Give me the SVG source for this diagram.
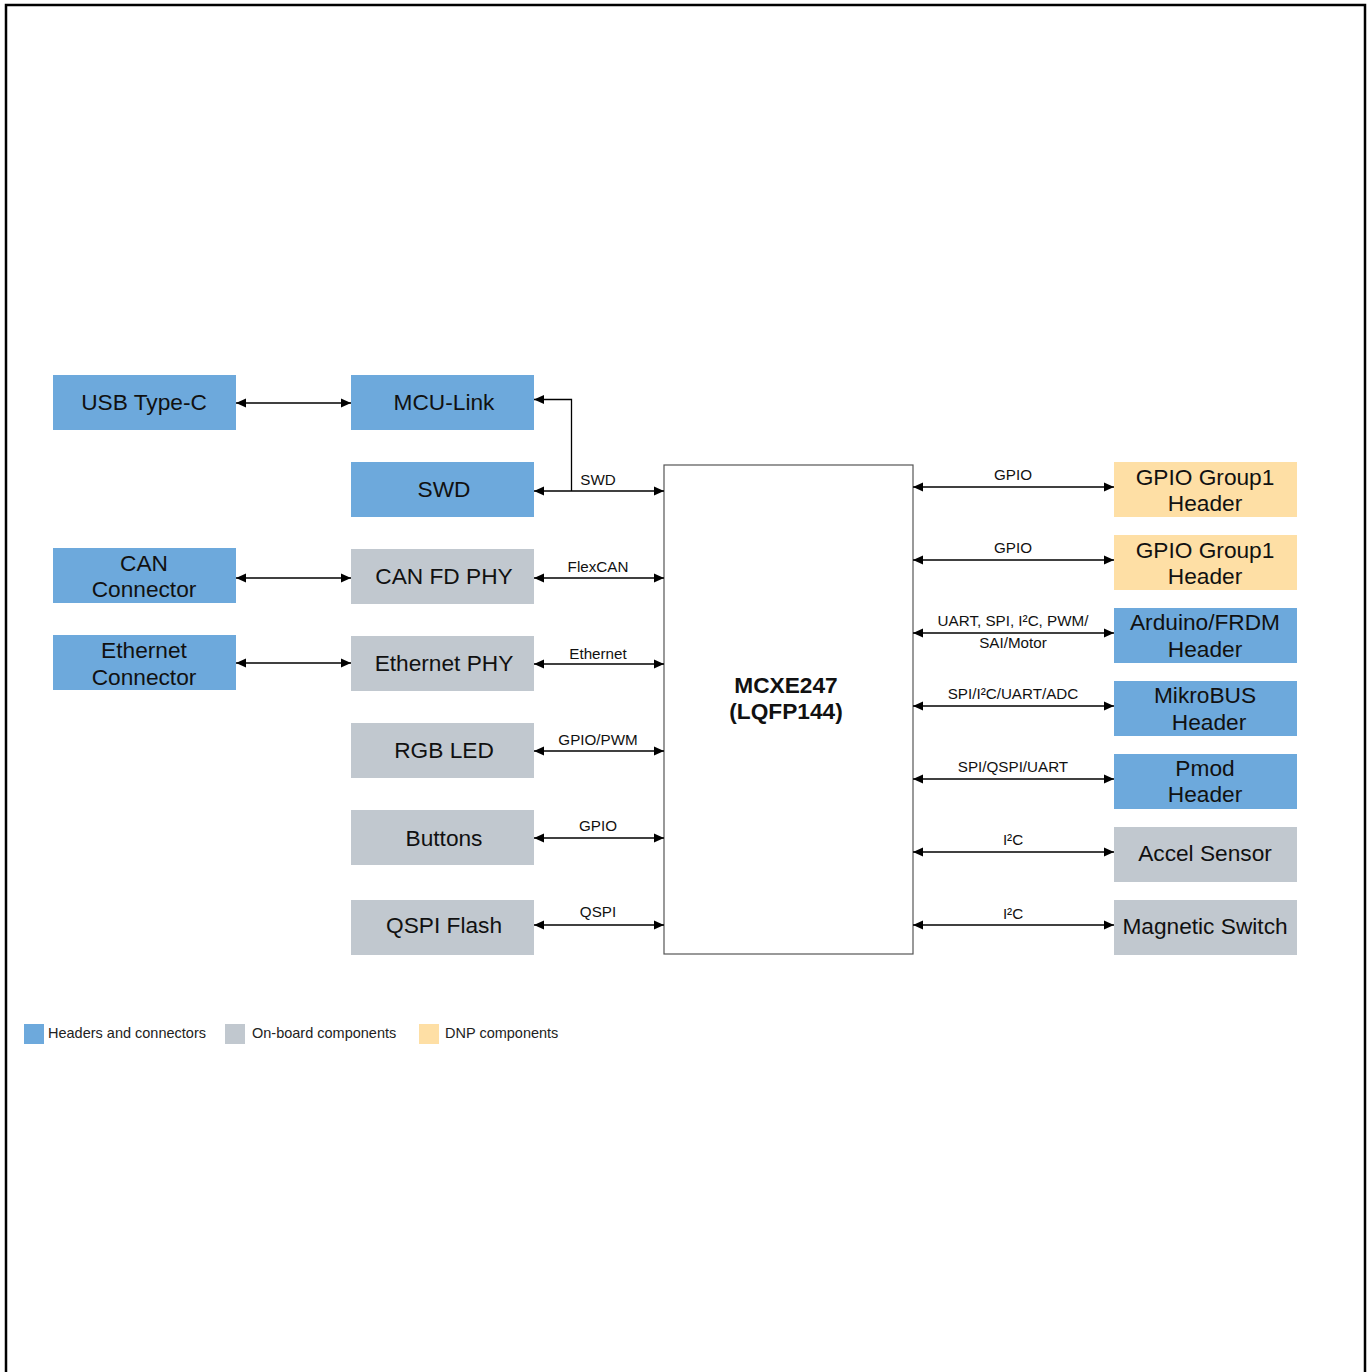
<svg xmlns="http://www.w3.org/2000/svg" width="1369" height="1372" viewBox="0 0 1369 1372">
<style>
.blue{fill:#6DA9DC}
.gray{fill:#C1C8CF}
.dnp{fill:#FEDFA5}
.t{font-family:"Liberation Sans",Arial,sans-serif;font-size:22.7px;fill:#111;text-anchor:middle}
.l{font-family:"Liberation Sans",Arial,sans-serif;font-size:15.2px;fill:#111;text-anchor:middle}
.lg{font-family:"Liberation Sans",Arial,sans-serif;font-size:14.5px;fill:#222}
.c{stroke:#000;stroke-width:1.3;fill:none;marker-start:url(#ah);marker-end:url(#ah)}
</style>
<defs>
<marker id="ah" viewBox="0 0 10 10" refX="10" refY="5" markerWidth="10" markerHeight="10" markerUnits="userSpaceOnUse" orient="auto-start-reverse">
<path d="M0,0.5 L10,5 L0,9.5 Z" fill="#000"/>
</marker>
<marker id="ahe" viewBox="0 0 10 10" refX="10" refY="5" markerWidth="10" markerHeight="10" markerUnits="userSpaceOnUse" orient="auto">
<path d="M0,0.5 L10,5 L0,9.5 Z" fill="#000"/>
</marker>
</defs>
<rect x="0" y="0" width="1369" height="1372" fill="#fff"/>
<path d="M6,1380 V5 H1365 V1380" fill="none" stroke="#000" stroke-width="2.5"/>

<g id="usb"><rect class="blue" x="53" y="375" width="183" height="55"/><text class="t" x="144" y="410">USB Type-C</text></g>
<g id="mculink"><rect class="blue" x="351" y="375" width="183" height="55"/><text class="t" x="444" y="410">MCU-Link</text></g>
<g id="swd"><rect class="blue" x="351" y="462" width="183" height="55"/><text class="t" x="444" y="497">SWD</text></g>
<g id="canconn"><rect class="blue" x="53" y="548" width="183" height="55"/><text class="t" x="144" y="571">CAN</text><text class="t" x="144" y="597">Connector</text></g>
<g id="canphy"><rect class="gray" x="351" y="549" width="183" height="55"/><text class="t" x="444" y="584">CAN FD PHY</text></g>
<g id="ethconn"><rect class="blue" x="53" y="635" width="183" height="55"/><text class="t" x="144" y="658">Ethernet</text><text class="t" x="144" y="685">Connector</text></g>
<g id="ethphy"><rect class="gray" x="351" y="636" width="183" height="55"/><text class="t" x="444" y="671">Ethernet PHY</text></g>
<g id="rgb"><rect class="gray" x="351" y="723" width="183" height="55"/><text class="t" x="444" y="758">RGB LED</text></g>
<g id="buttons"><rect class="gray" x="351" y="810" width="183" height="55"/><text class="t" x="444" y="846">Buttons</text></g>
<g id="qspi"><rect class="gray" x="351" y="900" width="183" height="55"/><text class="t" x="444" y="933">QSPI Flash</text></g>

<g id="mcu"><rect x="664" y="465" width="249" height="489" fill="#fff" stroke="#555" stroke-width="1.2"/>
<text class="t" x="786" y="693" style="font-weight:bold">MCXE247</text><text class="t" x="786" y="719" style="font-weight:bold">(LQFP144)</text></g>

<g id="gpio1"><rect class="dnp" x="1114" y="462" width="183" height="55"/><text class="t" x="1205" y="485">GPIO Group1</text><text class="t" x="1205" y="511">Header</text></g>
<g id="gpio2"><rect class="dnp" x="1114" y="535" width="183" height="55"/><text class="t" x="1205" y="558">GPIO Group1</text><text class="t" x="1205" y="584">Header</text></g>
<g id="arduino"><rect class="blue" x="1114" y="608" width="183" height="55"/><text class="t" x="1205" y="630">Arduino/FRDM</text><text class="t" x="1205" y="657">Header</text></g>
<g id="mikrobus"><rect class="blue" x="1114" y="681" width="183" height="55"/><text class="t" x="1205" y="703">MikroBUS</text><text class="t" x="1209" y="730">Header</text></g>
<g id="pmod"><rect class="blue" x="1114" y="754" width="183" height="55"/><text class="t" x="1205" y="776">Pmod</text><text class="t" x="1205" y="802">Header</text></g>
<g id="accel"><rect class="gray" x="1114" y="827" width="183" height="55"/><text class="t" x="1205" y="861">Accel Sensor</text></g>
<g id="magnetic"><rect class="gray" x="1114" y="900" width="183" height="55"/><text class="t" x="1205" y="934">Magnetic Switch</text></g>

<g id="connectors">
<line class="c" x1="236" y1="403" x2="351" y2="403"/>
<path d="M571.5,491 V399.5 H534" fill="none" stroke="#000" stroke-width="1.3" marker-end="url(#ahe)"/>
<line class="c" x1="534" y1="491" x2="664" y2="491"/>
<line class="c" x1="236" y1="578" x2="351" y2="578"/>
<line class="c" x1="534" y1="578" x2="664" y2="578"/>
<line class="c" x1="236" y1="663" x2="351" y2="663"/>
<line class="c" x1="534" y1="664" x2="664" y2="664"/>
<line class="c" x1="534" y1="751" x2="664" y2="751"/>
<line class="c" x1="534" y1="838" x2="664" y2="838"/>
<line class="c" x1="534" y1="925" x2="664" y2="925"/>
<line class="c" x1="913" y1="487" x2="1114" y2="487"/>
<line class="c" x1="913" y1="560" x2="1114" y2="560"/>
<line class="c" x1="913" y1="633" x2="1114" y2="633"/>
<line class="c" x1="913" y1="706" x2="1114" y2="706"/>
<line class="c" x1="913" y1="779" x2="1114" y2="779"/>
<line class="c" x1="913" y1="852" x2="1114" y2="852"/>
<line class="c" x1="913" y1="925" x2="1114" y2="925"/>
<text class="l" x="598" y="485">SWD</text>
<text class="l" x="598" y="572">FlexCAN</text>
<text class="l" x="598" y="659">Ethernet</text>
<text class="l" x="598" y="745">GPIO/PWM</text>
<text class="l" x="598" y="831">GPIO</text>
<text class="l" x="598" y="917">QSPI</text>
<text class="l" x="1013" y="480">GPIO</text>
<text class="l" x="1013" y="553">GPIO</text>
<text class="l" x="1013" y="626">UART, SPI, I²C, PWM/</text>
<text class="l" x="1013" y="648">SAI/Motor</text>
<text class="l" x="1013" y="699">SPI/I²C/UART/ADC</text>
<text class="l" x="1013" y="772">SPI/QSPI/UART</text>
<text class="l" x="1013" y="845">I²C</text>
<text class="l" x="1013" y="919">I²C</text>
</g>

<g id="legend">
<rect class="blue" x="24" y="1024" width="20" height="20"/><text class="lg" x="48" y="1038">Headers and connectors</text>
<rect class="gray" x="225" y="1024" width="20" height="20"/><text class="lg" x="252" y="1038">On-board components</text>
<rect class="dnp" x="419" y="1024" width="20" height="20"/><text class="lg" x="445" y="1038">DNP components</text>
</g>
</svg>
